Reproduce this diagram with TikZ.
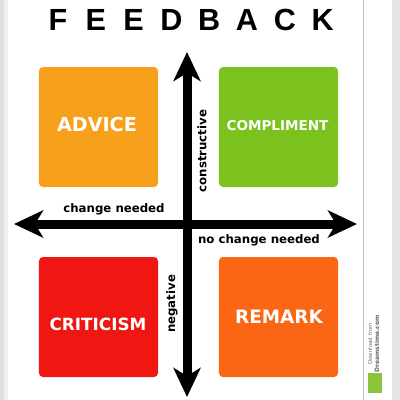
\documentclass[tikz,border=0pt]{standalone}
\usepackage{fontspec}
\setmainfont{DejaVu Sans}
\newfontfamily\titlefont{Liberation Sans}
\usetikzlibrary{arrows.meta}
\definecolor{advicec}{RGB}{247,160,28}
\definecolor{complc}{RGB}{124,194,30}
\definecolor{critc}{RGB}{240,22,18}
\definecolor{remarkc}{RGB}{250,102,20}
\definecolor{wmgreen}{RGB}{140,196,60}
\tikzset{
  quad/.style={rounded corners=4bp, inner sep=0pt, minimum width=119bp, minimum height=120bp},
  quadlabel/.style={text=white, font=\bfseries, inner sep=0pt},
  axislabel/.style={font=\bfseries\fontsize{11.8}{12}\selectfont, inner sep=0pt, text=black},
  axisarrow/.style={line width=9bp, -{Stealth[length=29bp,width=27bp,inset=8bp]}, black},
  titleletter/.style={font=\titlefont\bfseries\fontsize{30.7}{31}\selectfont, anchor=base, inner sep=0pt},
}
\begin{document}
\begin{tikzpicture}[x=1bp,y=-1bp]
\useasboundingbox (0,0) rectangle (400,400);
\fill[white] (0,0) rectangle (400,400);
% page frame shading
\fill[black!12] (0,0) rectangle (4,400);
\fill[black!6] (4,0) rectangle (8,400);
\fill[black!10] (392,0) rectangle (400,400);
\draw[black!25, line width=0.8bp] (363,0) -- (363,400);
% title
\foreach \ch [count=\i from 0] in {F,E,E,D,B,A,C,K}
  \node[titleletter] (t\i) at ({58+37.8*\i},30) {\ch};
% quadrant boxes
\node[quad, fill=advicec] (advice) at (98.5,127) {};
\node[quad, fill=complc] (compl) at (278.5,127) {};
\node[quad, fill=critc] (crit) at (98.5,317) {};
\node[quad, fill=remarkc] (remark) at (278.5,317) {};
\node[quadlabel, font=\bfseries\fontsize{19.2}{20}\selectfont] (advicet) at (97,125) {ADVICE};
\node[quadlabel, font=\bfseries\fontsize{13.6}{14}\selectfont] (complt) at (277.5,126) {COMPLIMENT};
\node[quadlabel, font=\bfseries\fontsize{16.9}{17}\selectfont] (critt) at (98,324) {CRITICISM};
\node[quadlabel, font=\bfseries\fontsize{18.5}{19}\selectfont] (remarkt) at (279,317) {REMARK};
% axes
\coordinate (top) at (187,52);
\coordinate (bottom) at (187,397);
\coordinate (left) at (14,224);
\coordinate (right) at (357,224);
\coordinate (centre) at (187,224);
\draw[axisarrow] (centre) -- (left);
\draw[axisarrow] (centre) -- (right);
\draw[axisarrow] (centre) -- (top);
\draw[axisarrow] (centre) -- (bottom);
% axis labels
\node[axislabel] (cn) at (114,209) {change needed};
\node[axislabel] (ncn) at (259,240) {no change needed};
\node[axislabel, rotate=90] (cons) at (202,151) {constructive};
\node[axislabel, rotate=90] (neg) at (172,304) {negative};
% watermark strip
\node[rotate=90, font=\fontsize{5.5}{6}\selectfont, text=black!55, inner sep=0pt] (wm1) at (370,344) {Download from};
\node[rotate=90, font=\bfseries\fontsize{6}{6}\selectfont, text=black!60, inner sep=0pt] (wm2) at (377,344) {Dreamstime.com};
\node[fill=wmgreen, minimum width=14bp, minimum height=20bp, inner sep=0pt] (wm3) at (375,383) {};
\end{tikzpicture}
\end{document}
